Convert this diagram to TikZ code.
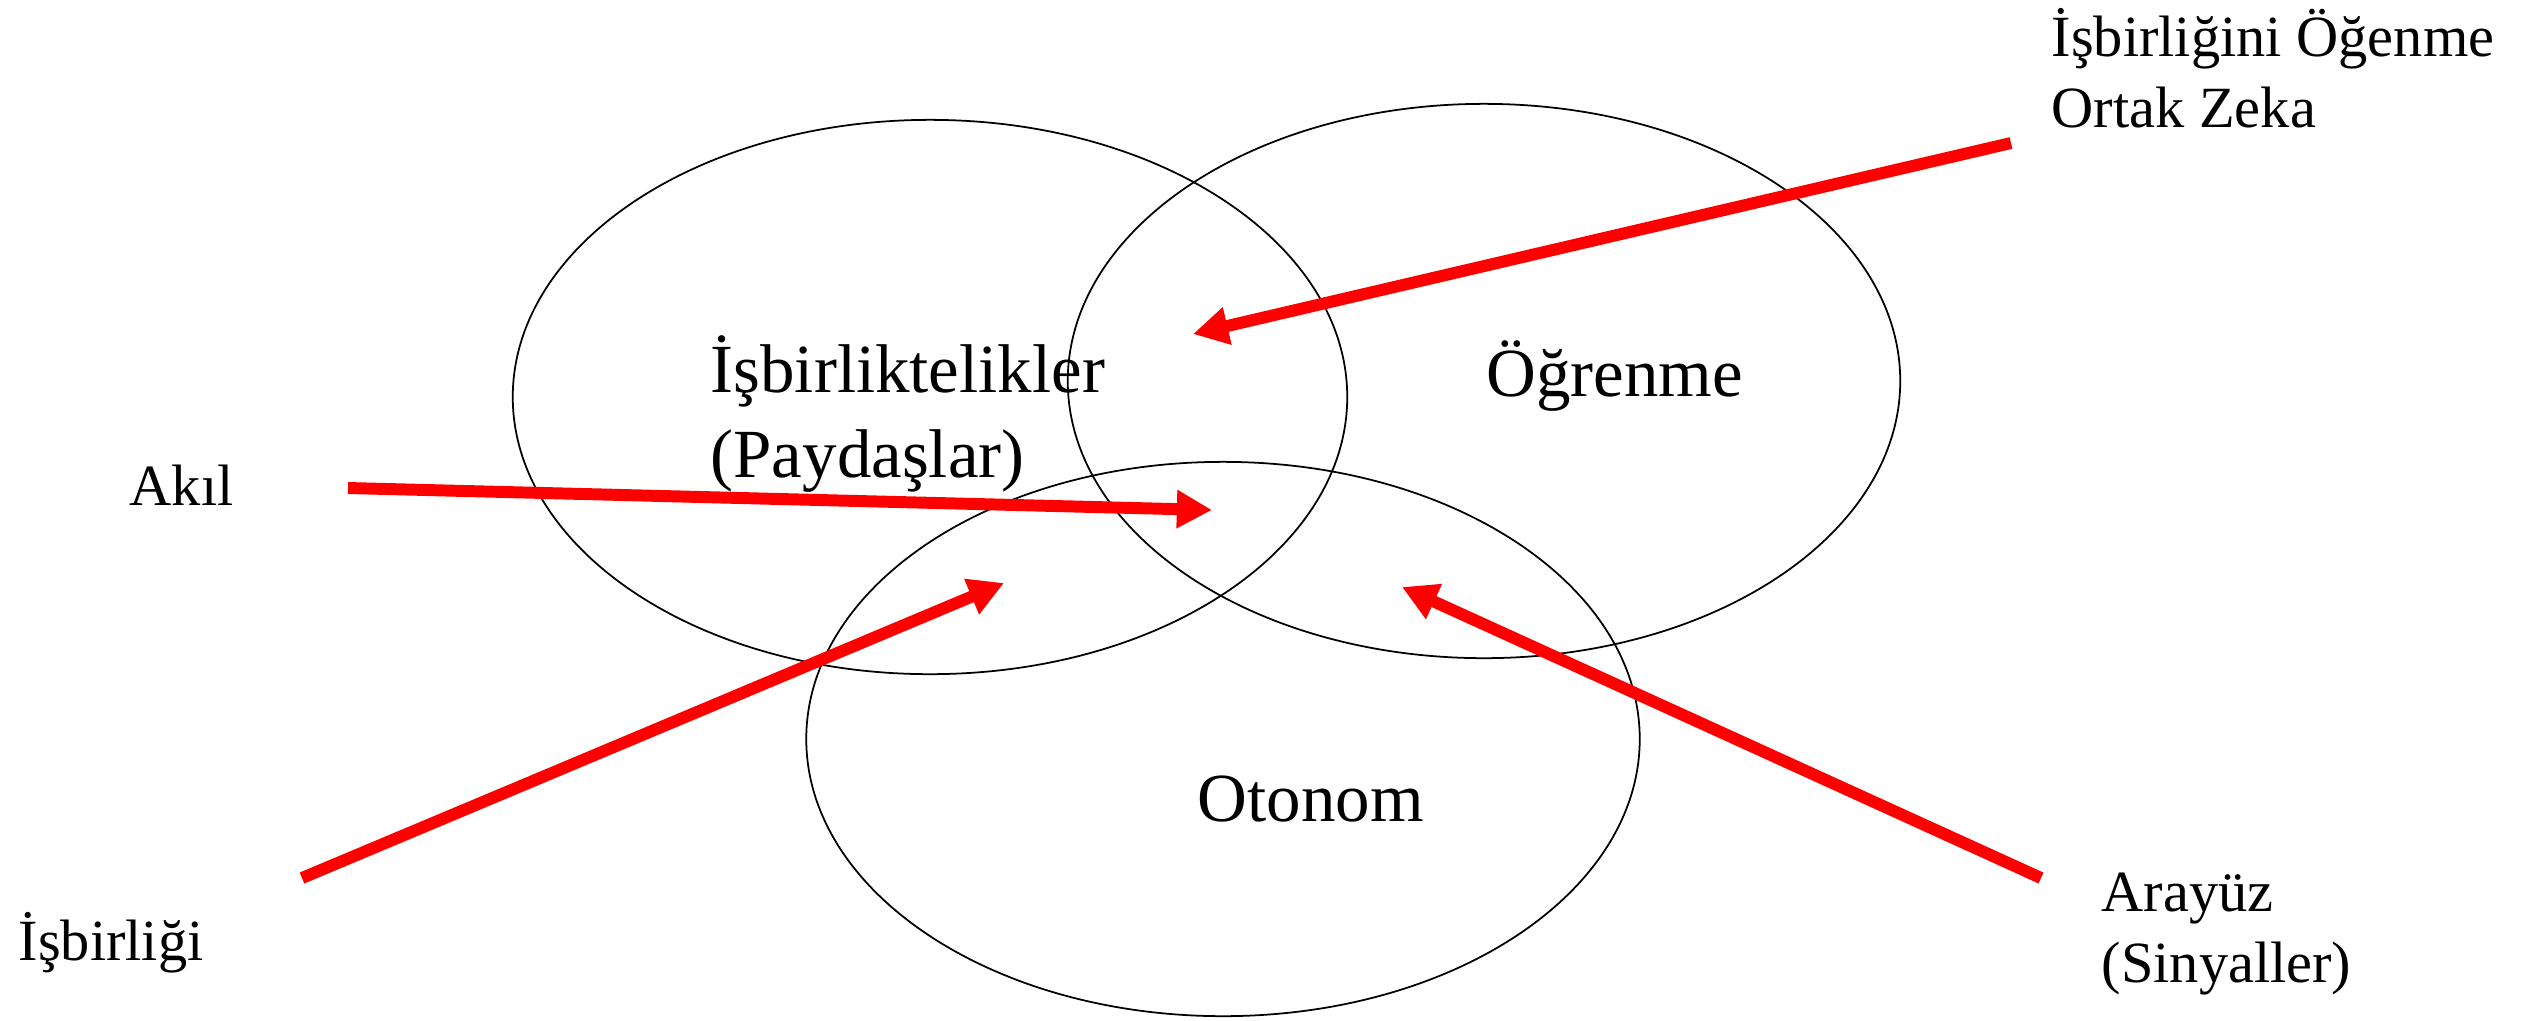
\documentclass[tikz,border=0pt]{standalone}
\usepackage{fontspec}
\setmainfont{Liberation Serif}
\usetikzlibrary{arrows.meta}
\tikzset{
  ring/.style={draw=black, line width=0.5pt},
  biglabel/.style={font=\fontsize{19.6pt}{23.9pt}\selectfont, inner sep=0pt, anchor=base west, align=left},
  smalllabel/.style={font=\fontsize{16.6pt}{20.0pt}\selectfont, inner sep=0pt, anchor=base west, align=left},
  redarrow/.style={draw=red, line width=3.4pt, -{Triangle[length=10pt, width=10.3pt]}}
}
\begin{document}
\begin{tikzpicture}[x=0.01cm, y=-0.01cm]
\useasboundingbox (0,0) rectangle (2529,1020);
% ellipses
\draw[ring] (930,397) ellipse [x radius=4.17cm, y radius=2.77cm];
\draw[ring] (1484,381) ellipse [x radius=4.16cm, y radius=2.77cm];
\draw[ring] (1223,739) ellipse [x radius=4.165cm, y radius=2.77cm];
% labels in ellipses (base anchor = baseline of last line)
\node[biglabel] (isb) at (710,477) {İşbirliktelikler\\(Paydaşlar)};
\node[biglabel] (ogr) at (1486,396) {Öğrenme};
\node[biglabel] (oto) at (1197,821) {Otonom};
% outer labels
\node[smalllabel] (akil) at (129,505) {Akıl};
\node[smalllabel] (isbg) at (18,960) {İşbirliği};
\node[smalllabel] (aray) at (2101,982) {Arayüz\\(Sinyaller)};
\node[smalllabel] (ortak) at (2051,127) {İşbirliğini Öğenme\\Ortak Zeka};
% arrow endpoints
\coordinate (a1s) at (348,488);
\coordinate (a1e) at (1212,510);
\coordinate (a2s) at (302,878);
\coordinate (a2e) at (1004,583);
\coordinate (a3s) at (2041,878);
\coordinate (a3e) at (1402,587);
\coordinate (a4s) at (2011,143);
\coordinate (a4e) at (1193,334);
\draw[redarrow] (a1s) -- (a1e);
\draw[redarrow] (a2s) -- (a2e);
\draw[redarrow] (a3s) -- (a3e);
\draw[redarrow] (a4s) -- (a4e);
\end{tikzpicture}
\end{document}
